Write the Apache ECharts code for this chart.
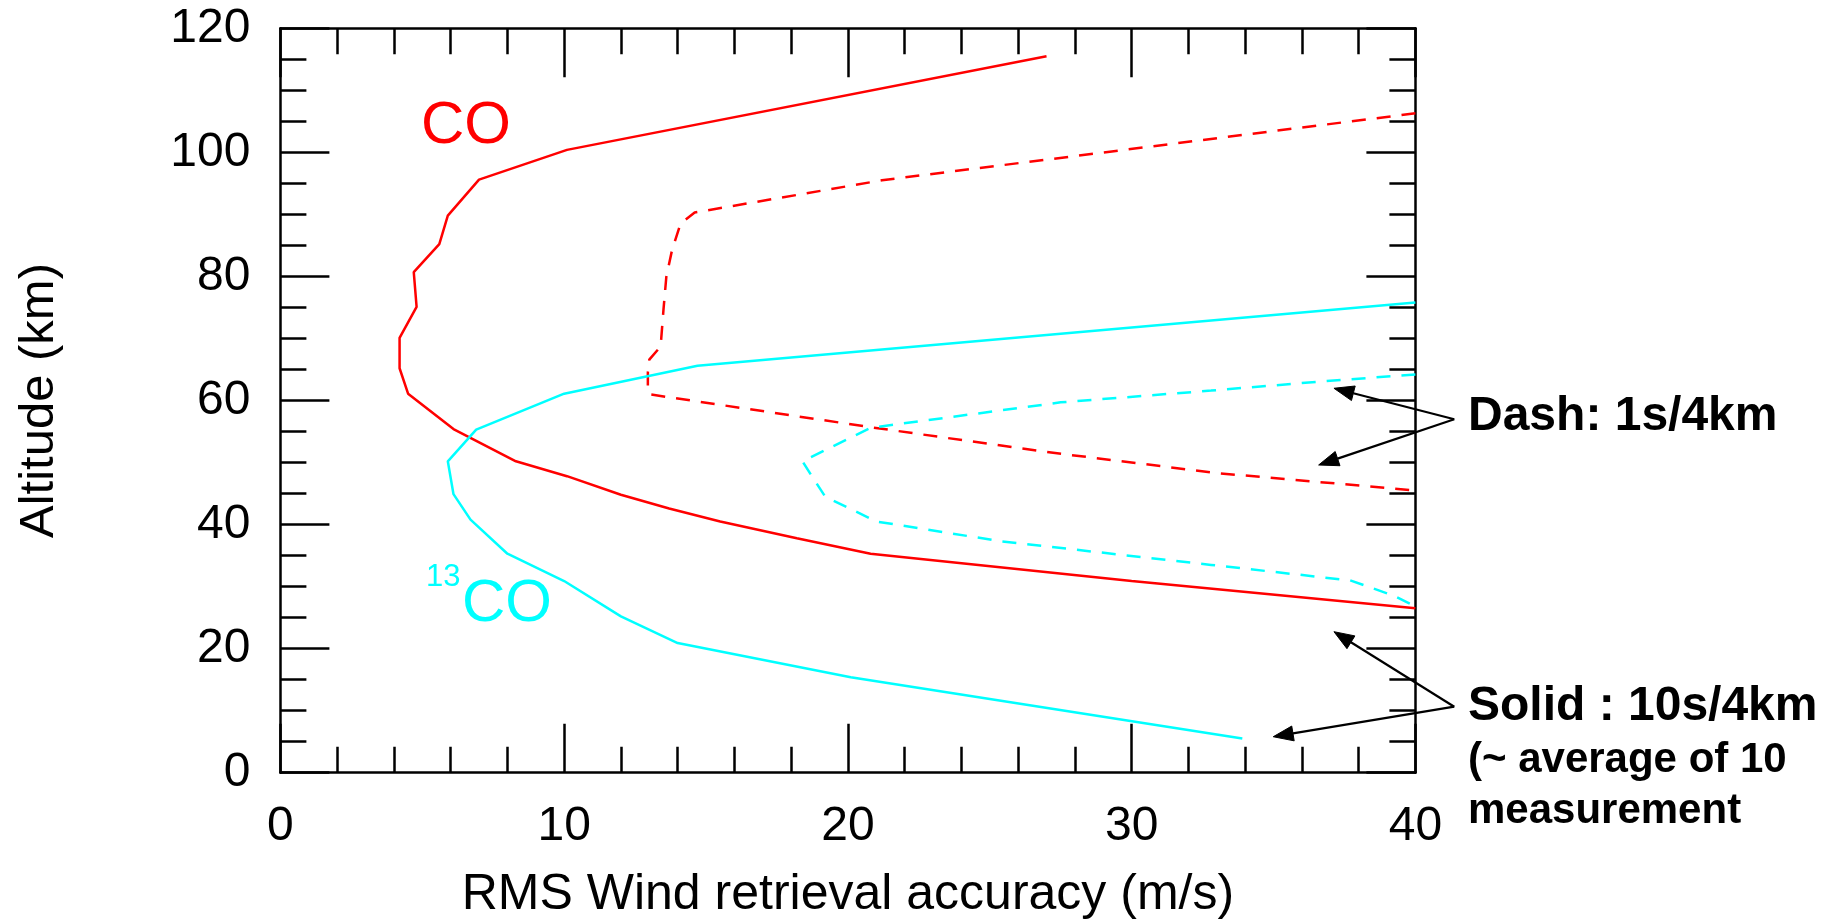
<!DOCTYPE html>
<html>
<head>
<meta charset="utf-8">
<script src="https://cdn.jsdelivr.net/npm/echarts@6/dist/echarts.min.js"></script>
<style>
html,body{margin:0;padding:0;background:#fff;}
#chart{width:1832px;height:920px;}
</style>
</head>
<body>
<div id="chart"></div>
<script>
// ---- Data (x = RMS wind accuracy m/s, y = altitude km) ----
const co10s = [
  [27.0,115.5],[10.1,100.4],[7.0,95.6],[5.9,89.8],[5.6,85.2],[4.7,80.7],[4.8,75.1],
  [4.2,70.1],[4.2,65.2],[4.5,61.1],[6.1,55.4],[8.3,50.2],[10.1,47.8],[12.0,44.8],
  [13.7,42.6],[15.5,40.5],[18.2,37.8],[20.8,35.3],[30.0,30.9],[40.0,26.5]
];
const co1s = [
  [40.0,106.3],[21.2,95.5],[14.6,90.3],[14.1,88.5],[13.8,84.2],[13.6,79.9],[13.5,74.6],
  [13.4,68.7],[13.0,66.6],[12.95,64.5],[12.95,62.3],[13.0,61.0],[20.8,55.7],[27.0,51.7],
  [33.0,48.3],[40.0,45.5]
];
const c13co10s = [
  [40.0,75.8],[14.7,65.6],[10.0,61.1],[6.9,55.3],[5.9,50.2],[6.1,44.9],[6.7,40.8],
  [8.0,35.3],[10.0,30.9],[12.0,25.2],[14.0,20.9],[20.1,15.4],[33.9,5.5]
];
const c13co1s = [
  [40.0,64.2],[36.5,63.0],[32.8,61.6],[27.5,59.7],[20.8,55.6],[18.4,50.2],[18.7,48.0],
  [19.2,44.5],[21.0,40.5],[25.4,37.3],[32.8,33.5],[37.7,31.0],[39.2,28.6],[40.0,26.8]
];
// Annotation arrows (in data coordinates): apex near the label, tips pointing at curves
const dashArrowApex = [41.37, 56.97];
const dashArrowTips = [[37.13, 61.97], [36.59, 49.6]];
const solidArrowApex = [41.37, 10.64];
const solidArrowTips = [[37.13, 22.73], [34.99, 5.8]];

const xTickLabels = ['0','10','20','30','40'];
const yTickLabels = ['0','20','40','60','80','100','120'];

const FONT = 'Liberation Sans, Arial, Helvetica, sans-serif';
const RED = '#ff0000';
const CYAN = '#00ffff';

const chart = echarts.init(document.getElementById('chart'), null, {renderer:'canvas'});

function axisCommon(showLabel, isX) {
  return {
    type: 'value',
    min: 0,
    max: isX ? 40 : 120,
    interval: isX ? 10 : 20,
    axisLine: {show: true, onZero: false, lineStyle: {color: '#000', width: 2.5}},
    axisTick: {show: true, inside: true, length: 49, lineStyle: {color: '#000', width: 2.5}},
    minorTick: {show: true, splitNumber: isX ? 5 : 4, length: 26, lineStyle: {color: '#000', width: 2.5}},
    splitLine: {show: false},
    minorSplitLine: {show: false},
    axisLabel: {
      show: showLabel,
      color: '#000',
      fontFamily: FONT,
      fontSize: 48,
      margin: isX ? 30 : 30,
      formatter: function (v) {
        const arr = isX ? xTickLabels : yTickLabels;
        const idx = Math.round(v / (isX ? 10 : 20));
        return arr[idx] !== undefined ? arr[idx] : String(v);
      }
    }
  };
}

const option = {
  backgroundColor: '#ffffff',
  animation: false,
  grid: {left: 280.4, right: 416.6, top: 28.3, bottom: 147.3, containLabel: false, outerBoundsMode: 'none'},
  xAxis: [
    Object.assign(axisCommon(true, true), {
      position: 'bottom',
      name: 'RMS Wind retrieval accuracy (m/s)',
      nameLocation: 'middle',
      nameGap: 98,
      nameTextStyle: {color: '#000', fontFamily: FONT, fontSize: 50}
    }),
    Object.assign(axisCommon(false, true), {position: 'top'})
  ],
  yAxis: [
    Object.assign(axisCommon(true, false), {
      position: 'left',
      name: 'Altitude (km)',
      nameLocation: 'middle',
      nameGap: 216,
      nameTextStyle: {color: '#000', fontFamily: FONT, fontSize: 49}
    }),
    Object.assign(axisCommon(false, false), {position: 'right'})
  ],
  series: [
    {name: 'CO 10s/4km', type: 'line', data: co10s, showSymbol: false, symbol: 'none',
     lineStyle: {color: RED, width: 2.5}, itemStyle: {color: RED}},
    {name: 'CO 1s/4km', type: 'line', data: co1s, showSymbol: false, symbol: 'none',
     lineStyle: {color: RED, width: 2.5, type: [14, 11]}, itemStyle: {color: RED}},
    {name: '13CO 10s/4km', type: 'line', data: c13co10s, showSymbol: false, symbol: 'none',
     lineStyle: {color: CYAN, width: 2.5}, itemStyle: {color: CYAN}},
    {name: '13CO 1s/4km', type: 'line', data: c13co1s, showSymbol: false, symbol: 'none',
     lineStyle: {color: CYAN, width: 2.5, type: [14, 11]}, itemStyle: {color: CYAN}}
  ]
};
chart.setOption(option);

// ---- Annotations ----
function px(pt) { return chart.convertToPixel({xAxisIndex: 0, yAxisIndex: 0}, pt); }

function arrow(apexData, tipData) {
  const a = px(apexData), t = px(tipData);
  const dx = t[0] - a[0], dy = t[1] - a[1];
  const len = Math.sqrt(dx * dx + dy * dy);
  const ux = dx / len, uy = dy / len;
  const headLen = 20, headHalf = 7.5;
  const bx = t[0] - ux * headLen, by = t[1] - uy * headLen;
  const nx = -uy, ny = ux;
  return [
    {type: 'line', silent: true, z: 100,
     shape: {x1: a[0], y1: a[1], x2: bx, y2: by},
     style: {stroke: '#000', lineWidth: 2.2}},
    {type: 'polygon', silent: true, z: 100,
     shape: {points: [[t[0], t[1]], [bx + nx * headHalf, by + ny * headHalf], [bx - nx * headHalf, by - ny * headHalf]]},
     style: {fill: '#000', stroke: '#000', lineWidth: 1}}
  ];
}

const graphics = [];
dashArrowTips.forEach(tp => graphics.push(...arrow(dashArrowApex, tp)));
solidArrowTips.forEach(tp => graphics.push(...arrow(solidArrowApex, tp)));

graphics.push(
  {type: 'text', left: 421, top: 96, z: 100,
   style: {text: 'CO', fill: RED, font: '60px ' + FONT}},
  {type: 'text', left: 426, top: 562, z: 100,
   style: {text: '13', fill: CYAN, font: '31px ' + FONT}},
  {type: 'text', left: 462, top: 574, z: 100,
   style: {text: 'CO', fill: CYAN, font: '60px ' + FONT}},
  {type: 'text', left: 1468, top: 393, z: 100,
   style: {text: 'Dash: 1s/4km', fill: '#000', font: 'bold 48px ' + FONT}},
  {type: 'text', left: 1468, top: 683, z: 100,
   style: {text: 'Solid : 10s/4km', fill: '#000', font: 'bold 48px ' + FONT}},
  {type: 'text', left: 1468, top: 739, z: 100,
   style: {text: '(~ average of 10', fill: '#000', font: 'bold 42px ' + FONT}},
  {type: 'text', left: 1468, top: 790, z: 100,
   style: {text: 'measurement', fill: '#000', font: 'bold 42px ' + FONT}}
);

chart.setOption({graphic: graphics});
</script>
</body>
</html>
